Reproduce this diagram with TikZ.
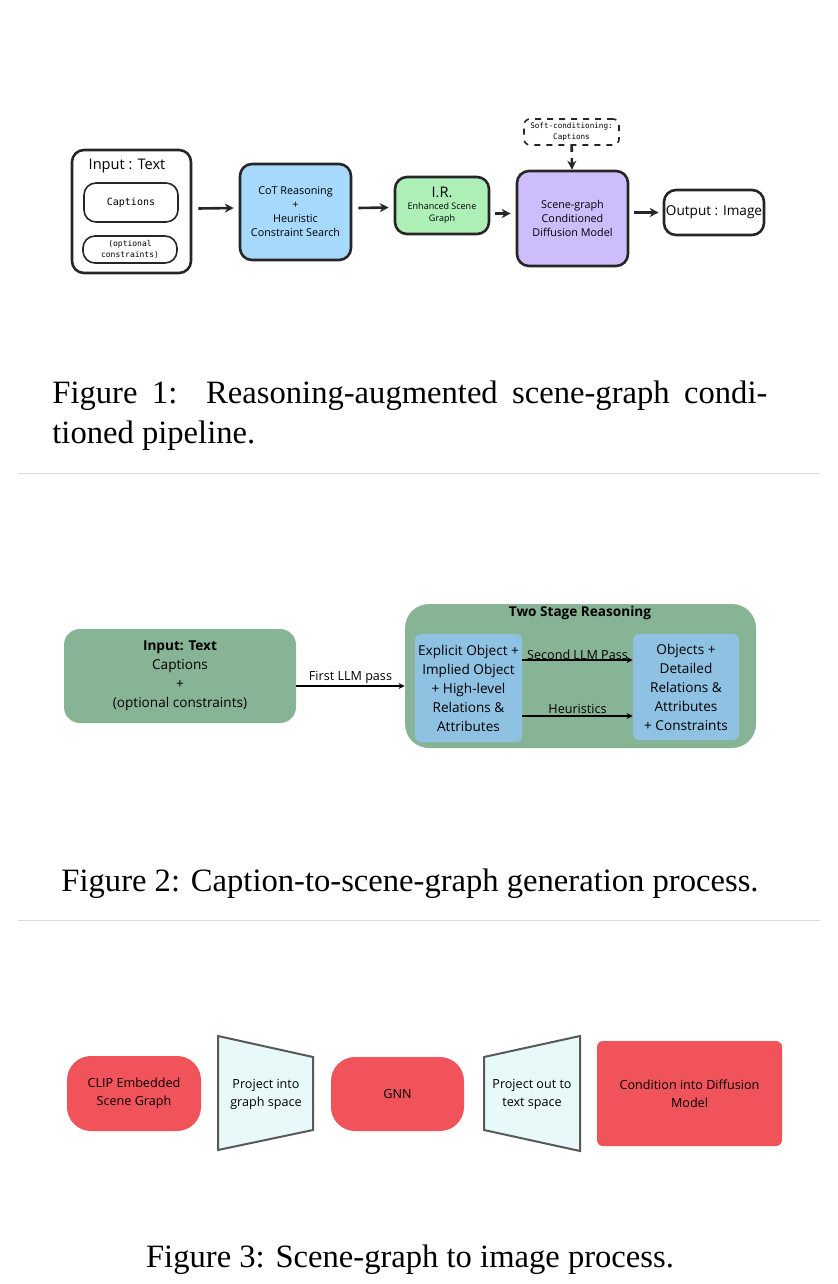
\documentclass[tikz,border=0pt]{standalone}
\usepackage{fontspec}
\setmainfont{Liberation Serif}
\setsansfont{Open Sans}
\setmonofont{DejaVu Sans Mono}
\usetikzlibrary{arrows.meta,positioning,calc}
\definecolor{cotblue}{HTML}{A6D9FC}
\definecolor{irgreen}{HTML}{AEEFB8}
\definecolor{sglilac}{HTML}{CDBDFB}
\definecolor{sage}{HTML}{88B496}
\definecolor{paleblue}{HTML}{8EC1E2}
\definecolor{redbox}{HTML}{F0535A}
\definecolor{icefill}{HTML}{E8F9F9}
\definecolor{rulegray}{HTML}{DADAD0}
\tikzset{
  sketchbox/.style={draw=black!85,line width=1.3pt,rounded corners=6pt,align=center,font=\sffamily\fontsize{5.4}{7}\selectfont},
  sketcharrow/.style={-{Stealth[length=4.5pt,width=4.5pt]},line width=1.3pt,black!85},
  sagebox/.style={fill=sage,rounded corners=8pt,align=center,font=\sffamily\fontsize{6.8}{9.5}\selectfont},
  bluebox/.style={fill=paleblue,rounded corners=3pt,align=center,font=\sffamily\fontsize{6.8}{9.5}\selectfont},
  flowarrow/.style={-{Stealth[length=3pt,width=3pt]},line width=0.7pt},
  edgelabel/.style={font=\sffamily\fontsize{6.3}{7}\selectfont,above,inner sep=1pt},
  redbox/.style={fill=redbox,rounded corners=12pt,align=center,font=\sffamily\fontsize{6.3}{9}\selectfont},
  figcaption/.style={font=\fontsize{16.3}{20}\selectfont}
}
\begin{document}
\begin{tikzpicture}[x=0.5pt,y=-0.5pt]
\useasboundingbox (0,0) rectangle (838,1284);

% figure 1
\node[sketchbox,minimum width=59.5pt,minimum height=61.5pt] (input) at (131.5,211.5) {};
\node[font=\sffamily\fontsize{7.3}{8}\selectfont] (inlabel) at (127,166) {Input : Text};
\node[sketchbox,line width=0.8pt,minimum width=47pt,minimum height=19.5pt,font=\ttfamily\fontsize{5}{6}\selectfont] (captions) at (131,202.5) {Captions};
\node[sketchbox,line width=0.8pt,minimum width=47pt,minimum height=13.5pt,inner sep=0pt,font=\ttfamily\fontsize{4}{5.2}\selectfont] (optional) at (130,249.5) {(optional\\constraints)};
\node[sketchbox,fill=cotblue,minimum width=55.5pt,minimum height=48pt] (cot) at (295.5,212) {CoT Reasoning\\+\\Heuristic\\Constraint Search};
\node[sketchbox,fill=irgreen,minimum width=47pt,minimum height=28.5pt,font=\sffamily\fontsize{4.5}{6}\selectfont] (ir) at (442,205.5) {{\fontsize{7.3}{8}\selectfont I.R.}\\Enhanced Scene\\Graph};
\node[sketchbox,fill=sglilac,minimum width=55.5pt,minimum height=47.5pt] (diffusion) at (572.5,218.5) {Scene-graph\\Conditioned\\Diffusion Model};
\node[sketchbox,minimum width=50pt,minimum height=22.5pt,font=\sffamily\fontsize{6.8}{7}\selectfont,inner sep=0pt] (output) at (714,212.5) {Output : Image};
\node[sketchbox,dashed,line width=0.8pt,rounded corners=3pt,minimum width=47.5pt,minimum height=13pt,inner sep=0pt,font=\ttfamily\fontsize{3.8}{5.5}\selectfont] (soft) at (571.5,132) {Soft-conditioning:\\Captions};
\draw[sketcharrow] (input.east) ++(6,-3) -- ($(cot.west)+(-5,-4)$);
\draw[sketcharrow] ($(cot.east)+(6,-4)$) -- ($(ir.west)+(-5,2)$);
\draw[sketcharrow] ($(ir.east)+(5,8)$) -- ($(diffusion.west)+(-5,-5)$);
\draw[sketcharrow] ($(diffusion.east)+(5,-6)$) -- ($(output.west)+(-4,0)$);
\draw[sketcharrow,dashed] (soft) -- (diffusion);
\node[figcaption,text width=357.5pt,align=justify,anchor=north west,inner sep=0pt] (cap1) at (52,380) {Figure 1:\ \ Reasoning-augmented scene-graph condi-\linebreak tioned pipeline.};

\draw[rulegray,line width=0.5pt] (18,473) -- (820,473);

% figure 2
\node[sagebox,minimum width=116pt,minimum height=47pt] (intext) at (180,676) {\textbf{Input: Text}\\Captions\\+\\(optional constraints)};
\node[sagebox,rounded corners=12pt,minimum width=175.5pt,minimum height=72pt] (twostage) at (580.5,676) {};
\node[font=\sffamily\bfseries\fontsize{6.8}{8}\selectfont] (stagetitle) at (580,613) {Two Stage Reasoning};
\node[bluebox,minimum width=53.5pt,minimum height=54pt,inner sep=0pt] (explicit) at (468.5,688) {Explicit Object +\\Implied Object\\+ High-level\\Relations \&\\Attributes};
\node[bluebox,minimum width=53pt,minimum height=53pt,inner sep=0pt] (detailed) at (686,687) {Objects +\\Detailed\\Relations \&\\Attributes\\+ Constraints};
\draw[flowarrow] (intext.east) ++(0,10) -- node[edgelabel] {First LLM pass} ($(explicit.west)+(-10,-2)$);
\draw[flowarrow] ($(explicit.east)+(0,-28)$) -- node[edgelabel,inner sep=0pt] {Second LLM Pass} ($(detailed.west)+(0,-27)$);
\draw[flowarrow] ($(explicit.east)+(0,28)$) -- node[edgelabel] {Heuristics} ($(detailed.west)+(0,29)$);
\node[figcaption] (cap2) at (410,884) {Figure 2: Caption-to-scene-graph generation process.};

\draw[rulegray,line width=0.5pt] (18,920) -- (820,920);

% figure 3
\node[redbox,minimum width=67pt,minimum height=37.5pt] (clip) at (134,1093.5) {CLIP Embedded\\Scene Graph};
\node[redbox,minimum width=66.5pt,minimum height=37pt] (gnn) at (397.5,1094) {GNN};
\node[redbox,rounded corners=3pt,minimum width=92.5pt,minimum height=52.5pt] (condition) at (689.5,1093.5) {Condition into Diffusion\\Model};
\draw[fill=icefill,draw=black!65,line width=1pt] (218,1036) -- (313,1057) -- (313,1130) -- (218,1150) -- cycle;
\node[align=center,font=\sffamily\fontsize{6.3}{9}\selectfont] (projin) at (266,1094) {Project into\\graph space};
\draw[fill=icefill,draw=black!65,line width=1pt] (484,1057) -- (580,1036) -- (580,1151) -- (484,1130) -- cycle;
\node[align=center,font=\sffamily\fontsize{6.3}{9}\selectfont] (projout) at (532,1094) {Project out to\\text space};
\node[figcaption] (cap3) at (410,1260) {Figure 3: Scene-graph to image process.};
\end{tikzpicture}
\end{document}
